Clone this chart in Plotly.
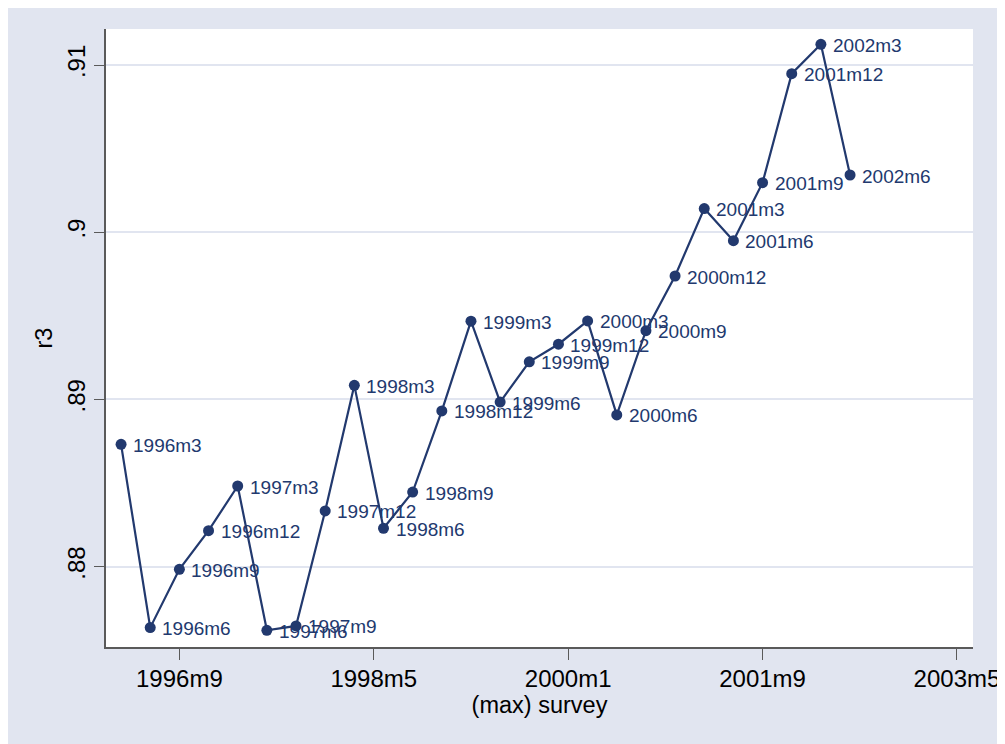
import plotly.graph_objects as go

# ---- data ----
periods = ["1996m3", "1996m6", "1996m9", "1996m12", "1997m3", "1997m6", "1997m9", "1997m12",
           "1998m3", "1998m6", "1998m9", "1998m12", "1999m3", "1999m6", "1999m9", "1999m12",
           "2000m3", "2000m6", "2000m9", "2000m12", "2001m3", "2001m6", "2001m9", "2001m12",
           "2002m3", "2002m6"]
r3 = [0.88731, 0.87635, 0.87984, 0.88215, 0.88482, 0.87619, 0.87645, 0.88333,
      0.89084, 0.88229, 0.88446, 0.88931, 0.89468, 0.88984, 0.89225, 0.89330,
      0.89469, 0.88907, 0.89411, 0.89738, 0.90141, 0.89949, 0.90296, 0.90948,
      0.91124, 0.90342]
x_tick_labels = ["1996m9", "1998m5", "2000m1", "2001m9", "2003m5"]
y_tick_values = [0.88, 0.89, 0.90, 0.91]
y_tick_labels = [".88", ".89", ".9", ".91"]


def month_index(s):
    """Stata %tm: months since 1960m1."""
    y, m = s.split("m")
    return (int(y) - 1960) * 12 + int(m) - 1


xs = [month_index(p) for p in periods]
x_ticks = [month_index(p) for p in x_tick_labels]

NAVY = "#22396e"
BG = "#e1e5f0"
FONT = "Liberation Sans, Arial, Helvetica, sans-serif"

fig = go.Figure()
fig.add_trace(go.Scatter(
    x=xs, y=r3, mode="lines+markers",
    line=dict(color=NAVY, width=2.2),
    marker=dict(color=NAVY, size=11),
    hoverinfo="skip", showlegend=False,
))

for xv, yv, lab in zip(xs, r3, periods):
    fig.add_annotation(x=xv, y=yv, text=lab, showarrow=False,
                       xanchor="left", yanchor="middle", xshift=10, yshift=-1,
                       font=dict(family=FONT, size=19, color=NAVY))

fig.update_layout(
    width=991, height=736,
    margin=dict(l=98, r=25.5, t=21, b=97, autoexpand=False),
    paper_bgcolor=BG, plot_bgcolor="white",
    font=dict(family=FONT, color="black"),
    showlegend=False,
)
fig.update_xaxes(
    range=[432.45, 521.65], automargin=False,
    tickvals=x_ticks, ticktext=x_tick_labels,
    tickfont=dict(size=24, family=FONT, color="black"),
    ticks="outside", ticklen=11, tickwidth=1.2, tickcolor="#5a5a5a",
    showline=True, linecolor="#5a5a5a", linewidth=1.5,
    showgrid=False, zeroline=False,
    ticklabelstandoff=-2, ticklabeloverflow="allow",
    title=dict(text="(max) survey", font=dict(size=23.5, family=FONT, color="black"), standoff=4),
)
fig.update_yaxes(
    range=[0.875191, 0.912153], automargin=False,
    tickvals=y_tick_values, ticktext=y_tick_labels, tickangle=-90,
    tickfont=dict(size=24, family=FONT, color="black"),
    ticks="outside", ticklen=10, tickwidth=1.2, tickcolor="#5a5a5a",
    showline=True, linecolor="#5a5a5a", linewidth=1.5,
    showgrid=True, gridcolor=BG, gridwidth=1.5, zeroline=False,
    ticklabelstandoff=0,
    title=dict(text="r3", font=dict(size=23.5, family=FONT, color="black"), standoff=3),
)

fig.write_html("out.html")
